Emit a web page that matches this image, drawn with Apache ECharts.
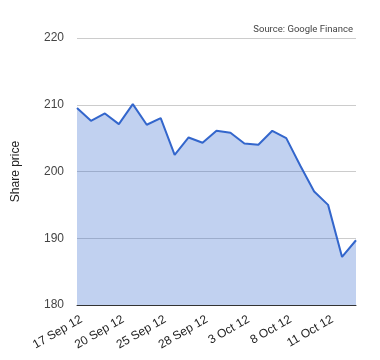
<!DOCTYPE html>
<html>
<head>
<meta charset="utf-8">
<script src="https://cdn.jsdelivr.net/npm/echarts@6/dist/echarts.min.js"></script>
<style>html,body{margin:0;padding:0;background:#fff}#c{width:380px;height:360px}</style>
</head>
<body>
<div id="c"></div>
<script>
const dates = ['17 Sep 12','18 Sep 12','19 Sep 12','20 Sep 12','21 Sep 12','24 Sep 12','25 Sep 12','26 Sep 12','27 Sep 12','28 Sep 12','1 Oct 12','2 Oct 12','3 Oct 12','4 Oct 12','5 Oct 12','8 Oct 12','9 Oct 12','10 Oct 12','11 Oct 12','12 Oct 12','15 Oct 12'];
const prices = [209.5,207.6,208.7,207.1,210.1,207.0,208.0,202.5,205.1,204.3,206.1,205.8,204.2,204.0,206.1,205.0,200.9,197.0,195.0,187.2,189.7];
const yTicks = {min:180, max:220, interval:10};

const chart = echarts.init(document.getElementById('c'), null, {renderer:'canvas'});
chart.setOption({
  animation:false,
  textStyle:{fontFamily:'Liberation Sans, Arial, sans-serif'},
  title:{text:'Source: Google Finance', right:22, top:20,
    textStyle:{fontSize:9.5, fontWeight:'normal', color:'#444', fontFamily:'Roboto, sans-serif'}},
  grid:{left:77, right:24, top:38, bottom:55},
  xAxis:{type:'category', data:dates, boundaryGap:false,
    axisLine:{show:true, lineStyle:{color:'#333', width:1}},
    axisTick:{show:false},
    axisLabel:{interval:2, rotate:30, color:'#222', fontSize:12, margin:16, padding:[0,-5,0,0]},
    splitLine:{show:false}},
  yAxis:{type:'value', min:yTicks.min, max:yTicks.max, interval:yTicks.interval,
    name:'Share price', nameLocation:'middle', nameGap:55, nameRotate:90,
    nameTextStyle:{color:'#222', fontSize:12},
    axisLine:{show:false}, axisTick:{show:false},
    axisLabel:{color:'#444', fontSize:12, margin:13},
    splitLine:{lineStyle:{color:'#ccc', width:1}}},
  series:[{type:'line', data:prices, showSymbol:false, symbol:'none',
    lineStyle:{color:'#3366cc', width:2},
    itemStyle:{color:'#3366cc'},
    areaStyle:{color:'#3366cc', opacity:0.3}}]
});
</script>
</body>
</html>
